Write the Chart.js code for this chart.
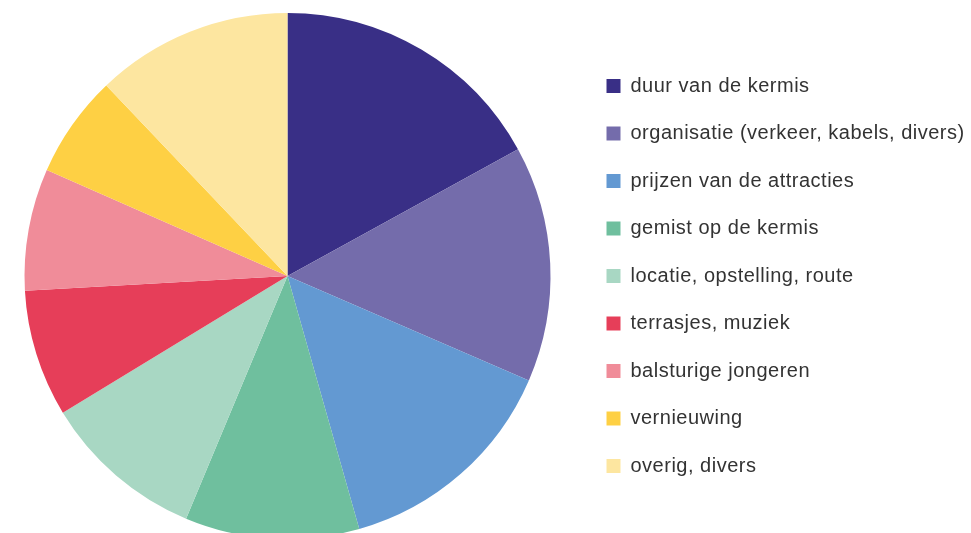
<!DOCTYPE html>
<html>
<head>
<meta charset="utf-8">
<script src="https://cdn.jsdelivr.net/npm/chart.js@4"></script>
<style>
  html, body { margin: 0; padding: 0; background: #fff; overflow: hidden; }
  #kermis-chart { display: block; margin-left: -4.5px; }
</style>
</head>
<body>
<canvas id="kermis-chart" width="976" height="552"></canvas>
<script>
// shares of the remarks (percent)
const categories = [
    'duur van de kermis',
    'organisatie (verkeer, kabels, divers)',
    'prijzen van de attracties',
    'gemist op de kermis',
    'locatie, opstelling, route',
    'terrasjes, muziek',
    'balsturige jongeren',
    'vernieuwing',
    'overig, divers'
]
const shares = [17.0, 14.5, 14.1, 10.7, 10.0, 7.8, 7.5, 6.3, 12.1]
const sliceColors = ['#392f86', '#746cab', '#6399d2', '#6fbf9e', '#a8d7c3', '#e63e59', '#f08c99', '#fed044', '#fde6a0']

// legend text is spaced a little wider than plain Arial
const letterSpacing = {
    id: 'letterSpacing',
    beforeLayout(chart) { chart.ctx.letterSpacing = '0.5px' },
    beforeDraw(chart) { chart.ctx.letterSpacing = '0.5px' }
}

const ctx = document.getElementById('kermis-chart').getContext('2d')
const myChart = new Chart(ctx, {
    type: 'pie',
    data: {
        labels: categories,
        datasets: [{
            data: shares,
            backgroundColor: sliceColors,
            borderWidth: 0,
            hoverOffset: 0,
            offset: 0
        }]
    },
    options: {
        responsive: false,
        animation: false,
        layout: {
            padding: { left: 0, right: 0, top: 13, bottom: 13 }
        },
        plugins: {
            tooltip: { enabled: false },
            legend: {
                position: 'right',
                maxWidth: 393,
                labels: {
                    boxWidth: 14,
                    boxHeight: 14,
                    padding: 27.5,
                    color: '#333',
                    font: { family: '"Liberation Sans", Arial, Helvetica, sans-serif', size: 20 }
                }
            }
        }
    },
    plugins: [letterSpacing]
})
</script>
</body>
</html>
